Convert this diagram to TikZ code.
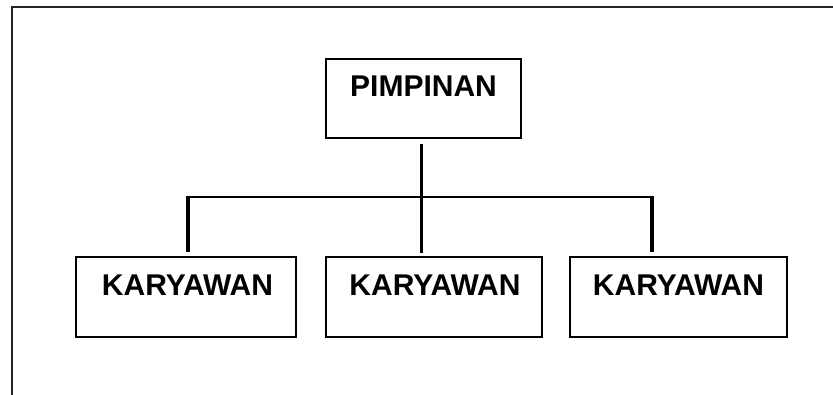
\documentclass[tikz,border=0pt]{standalone}
\usepackage{fontspec}
\setmainfont{Liberation Sans}
\begin{document}
\begin{tikzpicture}[x=1pt,y=1pt,
  box/.style={draw=black, line width=2pt, rectangle, inner sep=0pt},
  lbl/.style={font=\bfseries\fontsize{30}{32}\selectfont, anchor=base, inner sep=0pt},
  thick line/.style={line width=3.2pt},
  thin line/.style={line width=2.2pt},
  frame/.style={draw=black!85, line width=2pt}]
\useasboundingbox (0,0) rectangle (833,394);
% outer frame (only left and top edges visible)
\draw[frame] (12,-5) -- (12,387) -- (840,387);
% boxes
\node[box, minimum width=195pt, minimum height=79pt] (p) at (423.5,295.5) {};
\node[box, minimum width=220pt, minimum height=80pt] (k1) at (186,97) {};
\node[box, minimum width=216pt, minimum height=80pt] (k2) at (434,97) {};
\node[box, minimum width=217pt, minimum height=80pt] (k3) at (678.5,97) {};
% labels
\node[lbl] (tp) at (423.5,297) {PIMPINAN};
\node[lbl] (t1) at (187.5,99) {KARYAWAN};
\node[lbl] (t2) at (435,99) {KARYAWAN};
\node[lbl] (t3) at (678.5,99) {KARYAWAN};
% connectors
\draw[thick line] ([xshift=-1.8pt,yshift=-5pt]p.south) -- ([xshift=-12.3pt,yshift=3pt]k2.north);
\draw[thin line] (188,197) -- (652,197);
\draw[thick line] (188,198) -- ([xshift=2pt,yshift=4pt]k1.north);
\draw[thick line] (652,198) -- ([xshift=-26.5pt,yshift=4pt]k3.north);
\end{tikzpicture}
\end{document}
